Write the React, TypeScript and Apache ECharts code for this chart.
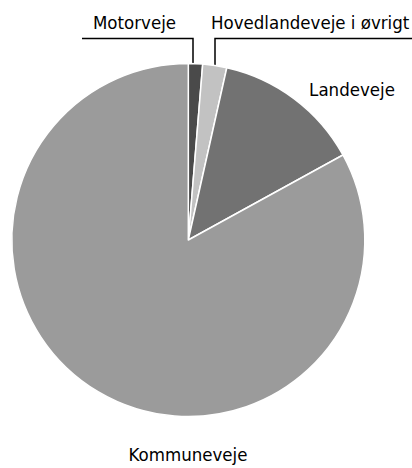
import React, { useEffect, useRef } from "react";
import * as echarts from "echarts";

const categories = ["Motorveje", "Hovedlandeveje i øvrigt", "Landeveje", "Kommuneveje"];
const values = [1.3, 2.2, 13.5, 83.0];
const colors = ["#4a4a4a", "#c2c2c2", "#727272", "#9b9b9b"];

const FONT = "'DejaVu Sans Condensed', 'Liberation Sans Narrow', 'Noto Sans', sans-serif";

export default function App() {
  const ref = useRef<HTMLDivElement>(null);
  useEffect(() => {
    document.body.style.margin = "0";
    const chart = echarts.init(ref.current!, null, { renderer: "svg" });
    chart.setOption({
      animation: false,
      backgroundColor: "#ffffff",
      series: [
        {
          type: "pie",
          center: [188.3, 240],
          radius: [0, 176.5],
          startAngle: 90,
          clockwise: true,
          data: categories.map((c, i) => ({ name: c, value: values[i], itemStyle: { color: colors[i] } })),
          itemStyle: { borderColor: "#ffffff", borderWidth: 1.5 },
          label: {
            show: true,
            position: "outside",
            formatter: "{b}",
            color: "#000",
            fontFamily: FONT,
            fontSize: 18.5,
            overflow: "none",
            width: 300,
          },
          labelLine: { show: true, length: 10, length2: 10, lineStyle: { color: "#000", width: 1.5 } },
          labelLayout: (params: any) => {
            const i = params.dataIndex;
            const p0 = params.labelLinePoints ? params.labelLinePoints[0] : [0, 0];
            const none = [[p0[0], p0[1]], [p0[0], p0[1]], [p0[0], p0[1]]];
            if (i === 0) {
              return {
                x: 176, y: 22, align: "right", verticalAlign: "middle", width: 300,
                labelLinePoints: [[193, 69], [193, 38.5], [82, 38.5]],
              };
            }
            if (i === 1) {
              return {
                x: 211, y: 22, align: "left", verticalAlign: "middle", width: 300,
                labelLinePoints: [[215, 72], [215, 38.5], [412, 38.5]],
              };
            }
            if (i === 2) {
              return { x: 352, y: 89, align: "center", verticalAlign: "middle", width: 300, labelLinePoints: none };
            }
            return { x: 188, y: 454, align: "center", verticalAlign: "middle", width: 300, labelLinePoints: none };
          },
        },
      ],
    });
    return () => chart.dispose();
  }, []);
  return <div ref={ref} style={{ width: 412, height: 468 }} />;
}
